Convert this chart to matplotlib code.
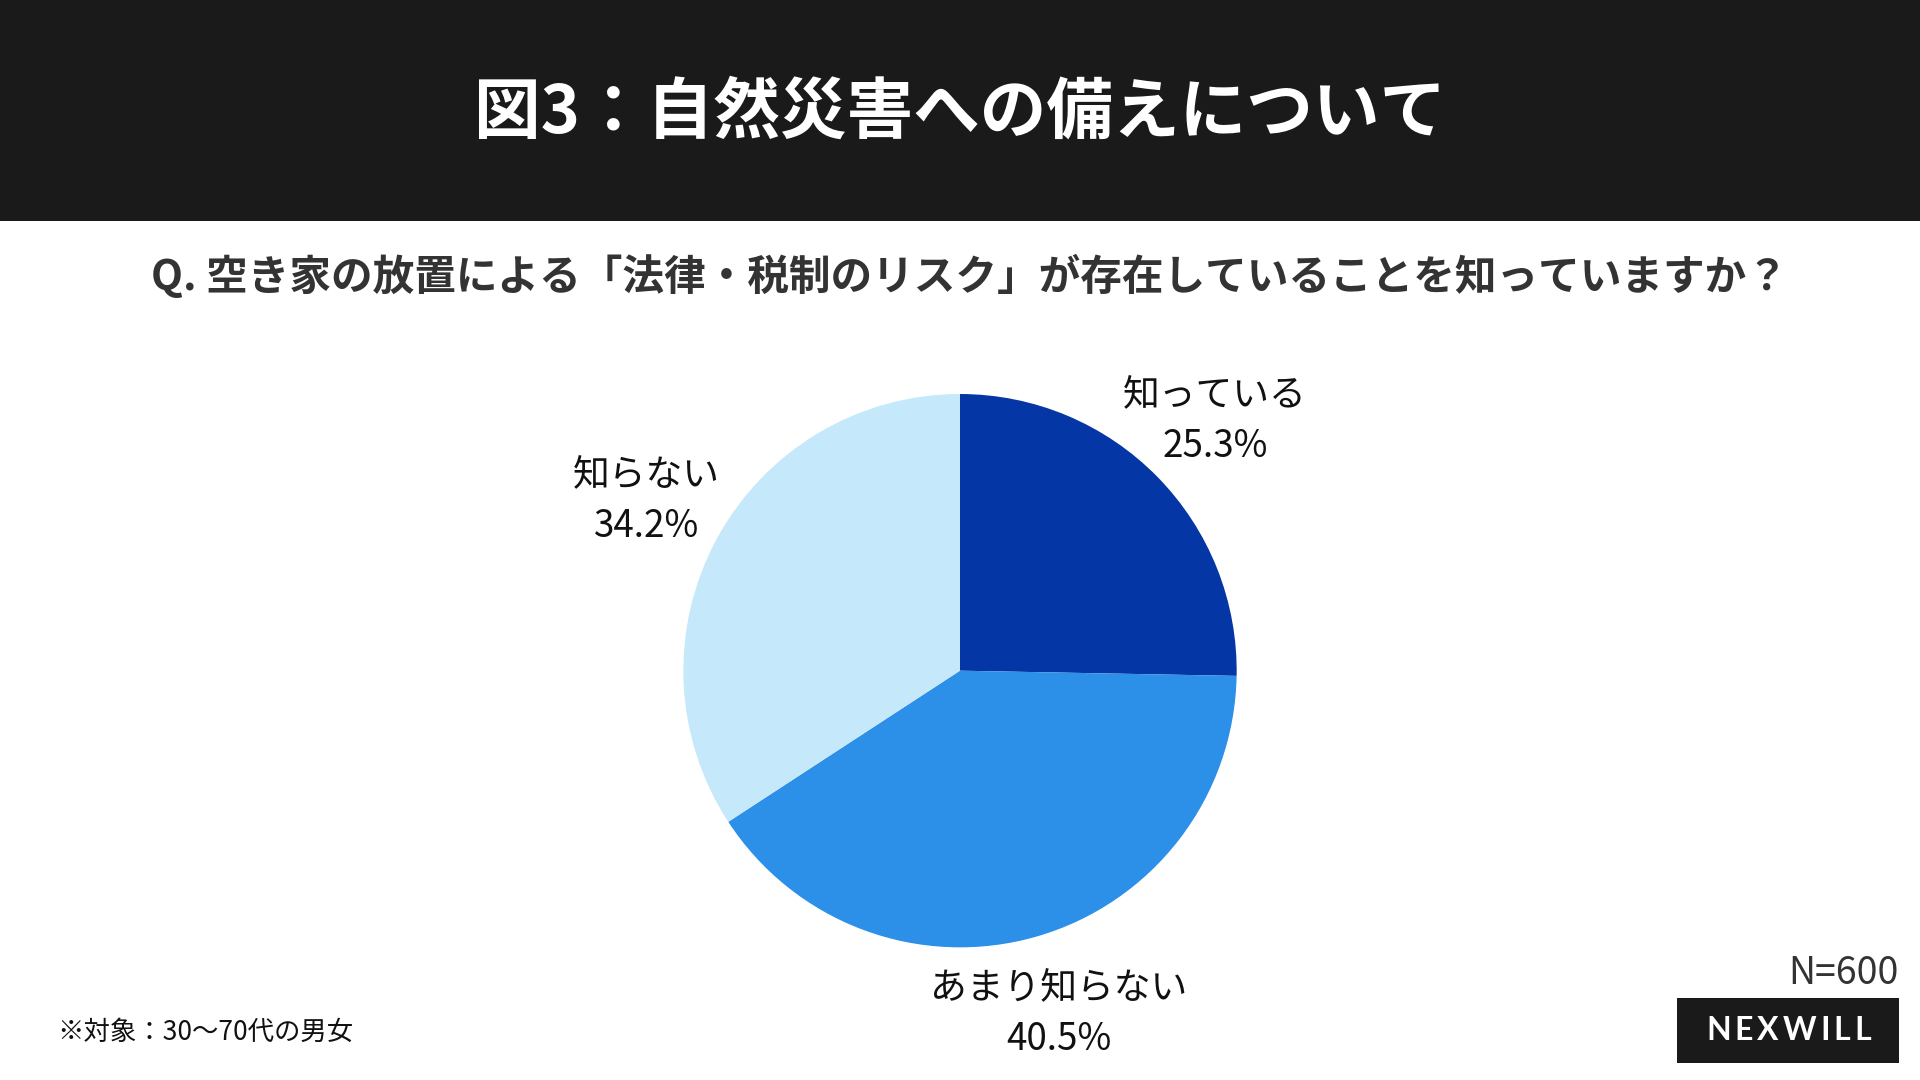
import matplotlib
matplotlib.use("Agg")
import matplotlib.pyplot as plt
from matplotlib.patches import Rectangle

plt.rcParams['font.family'] = ['Noto Sans CJK JP', 'DejaVu Sans']

# データ
labels = ['知っている', 'あまり知らない', '知らない']
values = [25.3, 40.5, 34.2]
colors = ['#0437a5', '#2c8fe8', '#c5e8fb']

title = '図3：自然災害への備えについて'
question = 'Q. 空き家の放置による「法律・税制のリスク」が存在していることを知っていますか？'
note = '※対象：30〜70代の男女'
n_text = 'N=600'
brand = 'NEXWILL'

fig = plt.figure(figsize=(19.2, 10.8), dpi=100)
fig.patch.set_facecolor('white')

# 上部の黒帯
fig.patches.append(Rectangle((0, 0.795), 1, 0.205, transform=fig.transFigure,
                             facecolor='#1a1a1a', edgecolor='none', zorder=0))
fig.text(0.5, 0.895, title, ha='center', va='center', color='white',
         fontsize=48, fontweight='bold')
fig.text(0.505, 0.744, question, ha='center', va='center', color='#333333',
         fontsize=30, fontweight='bold')

# 円グラフ
ax = fig.add_axes([0.3559, 0.1228, 0.2882, 0.5124])
pie_labels = [f'{l}\n{v}%' for l, v in zip(labels, values)]
wedges, texts = ax.pie(values, labels=pie_labels, colors=colors, startangle=90,
                       counterclock=False, labeldistance=1.29,
                       wedgeprops=dict(linewidth=0),
                       textprops=dict(fontsize=26.5, color='#111111'))
for t in texts:
    t.set_ha('center')
    t.set_va('center')
    t.set_linespacing(1.4)
ax.set_aspect('equal')
ax.set_xlim(-1, 1)
ax.set_ylim(-1, 1)

# 注記
fig.text(0.030, 0.044, note, ha='left', va='center', color='#111111', fontsize=19)
fig.text(0.989, 0.099, n_text, ha='right', va='center', color='#333333', fontsize=27)

# ロゴ（字間を広げて1文字ずつ配置）
fig.patches.append(Rectangle((0.8735, 0.016), 0.1155, 0.060, transform=fig.transFigure,
                             facecolor='#1a1a1a', edgecolor='none'))
renderer = fig.canvas.get_renderer()
letters = [fig.text(0, 0.046, ch, ha='left', va='center', color='white',
                    fontsize=23, fontweight='bold', family='Lato') for ch in brand]
widths = [t.get_window_extent(renderer).width / fig.bbox.width for t in letters]
x_start, x_end = 0.8885, 0.9745
gap = (x_end - x_start - sum(widths)) / (len(brand) - 1)
x = x_start
for t, w in zip(letters, widths):
    t.set_x(x)
    x += w + gap

fig.savefig('out.png', dpi=100)
